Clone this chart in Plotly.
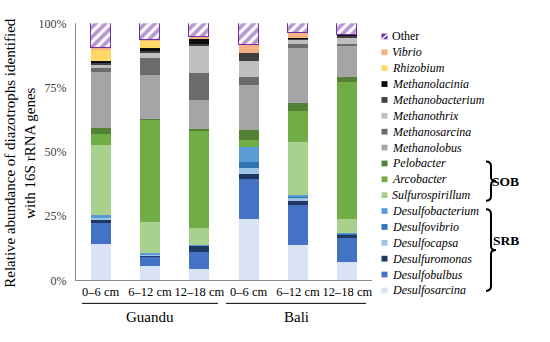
import plotly.graph_objects as go

W, H = 550, 342
def px(x): return x / W
def py(y): return 1 - y / H

categories = ["0–6 cm", "6–12 cm", "12–18 cm", "0–6 cm", "6–12 cm", "12–18 cm"]
groups = ["Guandu", "Bali"]
y_ticks = [0, 25, 50, 75, 100]
y_tick_labels = ["0%", "25%", "50%", "75%", "100%"]

# stacked bottom -> top
desulfosarcina   = [14.0, 5.6, 4.1, 23.9, 13.7, 7.1]
desulfobulbus    = [8.2, 3.5, 6.7, 15.3, 15.5, 9.4]
desulfuromonas   = [1.5, 0.6, 2.5, 2.2, 1.6, 1.2]
desulfocapsa     = [0.5, 0.3, 0.2, 2.0, 1.2, 0.2]
desulfovibrio    = [0.3, 0.1, 0.1, 2.5, 0.3, 0.1]
desulfobacterium = [0.7, 0.3, 0.2, 6.0, 0.9, 0.2]
sulfurospirillum = [27.5, 12.2, 6.4, 0.0, 20.5, 5.6]
arcobacter       = [4.0, 39.8, 38.1, 2.7, 12.0, 53.1]
pelobacter       = [2.4, 0.3, 0.4, 3.7, 3.1, 1.9]
methanolobus     = [21.8, 17.0, 11.2, 17.6, 21.5, 12.5]
methanosarcina   = [1.7, 6.8, 10.6, 2.9, 1.5, 0.7]
methanothrix     = [1.4, 1.9, 10.6, 6.5, 1.6, 2.0]
methanobacterium = [0.5, 0.9, 0.8, 3.1, 0.6, 1.0]
methanolacinia   = [0.8, 1.0, 2.2, 0.0, 0.3, 0.3]
rhizobium        = [4.4, 2.7, 0.0, 0.0, 0.0, 0.0]
vibrio           = [0.6, 0.2, 0.5, 2.9, 1.9, 0.0]
other            = [9.7, 6.8, 5.4, 8.7, 3.8, 4.7]

series = [
    ("Desulfosarcina", desulfosarcina, "#dae3f3"),
    ("Desulfobulbus", desulfobulbus, "#4472c4"),
    ("Desulfuromonas", desulfuromonas, "#203864"),
    ("Desulfocapsa", desulfocapsa, "#9dc3e6"),
    ("Desulfovibrio", desulfovibrio, "#2e75b6"),
    ("Desulfobacterium", desulfobacterium, "#5b9bd5"),
    ("Sulfurospirillum", sulfurospirillum, "#a9d18e"),
    ("Arcobacter", arcobacter, "#70ad47"),
    ("Pelobacter", pelobacter, "#548235"),
    ("Methanolobus", methanolobus, "#a5a5a5"),
    ("Methanosarcina", methanosarcina, "#6b6b6b"),
    ("Methanothrix", methanothrix, "#bfbfbf"),
    ("Methanobacterium", methanobacterium, "#404040"),
    ("Methanolacinia", methanolacinia, "#0d0d0d"),
    ("Rhizobium", rhizobium, "#ffd966"),
    ("Vibrio", vibrio, "#f4b183"),
    ("Other", other, "#7030a0"),
]

FONT = "Liberation Serif, Times New Roman, serif"
xs = list(range(len(categories)))

fig = go.Figure()
for name, vals, col in series:
    if name == "Other":
        marker = dict(color="white", line=dict(color=col, width=1),
                      pattern=dict(shape="/", fgcolor=col, bgcolor="white", size=7, solidity=0.55))
    else:
        marker = dict(color=col, line=dict(width=0))
    fig.add_trace(go.Bar(x=xs, y=vals, name=name, marker=marker, width=0.4, showlegend=False))

annotations = []
shapes = []

# legend (manual, compact)
legend_items = list(reversed(series))
for i, (name, vals, col) in enumerate(legend_items):
    yc = 30.7 + 16.55 * i
    txt = name if name == "Other" else f"<i>{name}</i>"
    annotations.append(dict(x=px(390), y=py(yc), xref="paper", yref="paper", text=txt,
                            showarrow=False, xanchor="left", yanchor="middle",
                            font=dict(family=FONT, size=12, color="#000")))
    shapes.append(dict(type="rect", xref="paper", yref="paper", x0=px(381.5), x1=px(387.5),
                       y0=py(yc + 3), y1=py(yc - 3), fillcolor=col, line=dict(width=0)))
    if name == "Other":
        shapes.append(dict(type="line", xref="paper", yref="paper", x0=px(382), x1=px(387.5),
                           y0=py(yc + 3), y1=py(yc - 2.5), line=dict(color="white", width=1.5)))

def brace(y0, y1, x=491):
    ym = (y0 + y1) / 2
    pts = f"M {px(486)},{py(y0)} Q {px(x)},{py(y0)} {px(x)},{py(y0+5)} L {px(x)},{py(ym-4)} " \
          f"Q {px(x)},{py(ym)} {px(496)},{py(ym)} Q {px(x)},{py(ym)} {px(x)},{py(ym+4)} " \
          f"L {px(x)},{py(y1-5)} Q {px(x)},{py(y1)} {px(486)},{py(y1)}"
    return dict(type="path", xref="paper", yref="paper", path=pts, line=dict(color="black", width=2))

shapes.append(brace(161, 202))
shapes.append(brace(211, 296))
annotations.append(dict(x=px(521), y=py(181.5), xref="paper", yref="paper", text="<b>SOB</b>",
                        showarrow=False, font=dict(family=FONT, size=13.5, color="#000")))
annotations.append(dict(x=px(521), y=py(253.5), xref="paper", yref="paper", text="<b>SRB</b>",
                        showarrow=False, font=dict(family=FONT, size=13.5, color="#000")))

# group lines and labels
for (gx0, gx1), g in zip([(82, 218), (226, 366)], groups):
    shapes.append(dict(type="line", xref="paper", yref="paper", x0=px(gx0), x1=px(gx1),
                       y0=py(309), y1=py(309), line=dict(color="#000", width=1)))
    annotations.append(dict(x=px((gx0 + gx1) / 2), y=py(323.5), xref="paper", yref="paper", text=g,
                            showarrow=False, xanchor="center", yanchor="middle",
                            font=dict(family=FONT, size=15, color="#000")))

# y-axis title
annotations.append(dict(x=px(20), y=py(152), xref="paper", yref="paper",
                        text="Relative abundance of diazotrophs identified<br>with 16S rRNA genes",
                        textangle=-90, showarrow=False, xanchor="center", yanchor="middle",
                        font=dict(family=FONT, size=15, color="#000")))

fig.update_layout(
    width=W, height=H, margin=dict(l=0, r=0, t=0, b=0),
    paper_bgcolor="white", plot_bgcolor="white", barmode="stack", bargap=0,
    font=dict(family=FONT, size=12, color="#000"),
    xaxis=dict(domain=[px(76), px(372)], range=[-0.5, 5.5], tickvals=xs, ticktext=categories,
               showline=True, linecolor="#8c8c8c", linewidth=1, showgrid=False, zeroline=False,
               ticks="", tickfont=dict(family=FONT, size=12.5, color="#000")),
    yaxis=dict(domain=[py(285), py(17)], range=[0, 100], tickvals=y_ticks, ticktext=y_tick_labels,
               showline=True, linecolor="#8c8c8c", linewidth=1, showgrid=False, zeroline=False,
               ticks="", ticklabelstandoff=6, tickfont=dict(family=FONT, size=12, color="#404040")),
    annotations=annotations, shapes=shapes,
)

fig.write_html("out.html", config={"displayModeBar": False},
               post_script="document.body.style.margin='0';document.body.style.overflow='hidden';")
